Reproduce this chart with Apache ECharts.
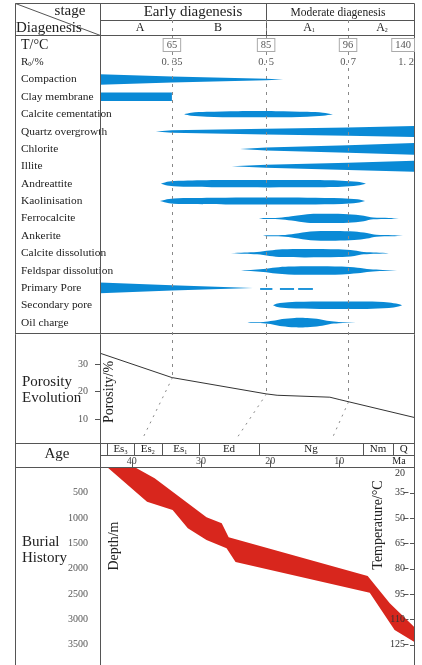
<!DOCTYPE html>
<html><head><meta charset="utf-8">
<script src="https://cdn.jsdelivr.net/npm/echarts@6/dist/echarts.min.js"></script>
<style>html,body{margin:0;padding:0;background:#fff}#c{width:422px;height:665px}</style>
</head><body><div id="c"></div>
<script>
// ---------------- data ----------------
const processNames = ['Compaction','Clay membrane','Calcite cementation','Quartz overgrowth','Chlorite','Illite','Andreattite','Kaolinisation','Ferrocalcite','Ankerite','Calcite dissolution','Feldspar dissolution','Primary Pore','Secondary pore','Oil charge'];
// profiles: [stage position (0-100), relative intensity (0-1)]
const compaction = [[0,0.85],[22.9,0.5],[52.9,0.12],[58.3,0]];
const clayMembrane = [[0.3,0.7],[22.9,0.7]];
const calciteCementation = [[26.8,0],[29,0.25],[34,0.4],[44,0.5],[56,0.5],[66,0.4],[71,0.25],[74.2,0]];
const quartzOvergrowth = [[17.8,0],[22.9,0.2],[52.9,0.47],[79,0.68],[100,0.9]];
const chlorite = [[44.6,0],[52.9,0.25],[79,0.62],[100,0.97]];
const illite = [[42,0],[52.9,0.25],[79,0.6],[100,0.9]];
const andreattite = [[19.4,0],[22,0.35],[28,0.52],[40,0.6],[66,0.6],[77,0.5],[82,0.3],[84.7,0]];
const kaolinisation = [[19.1,0],[22,0.35],[28,0.5],[40,0.56],[66,0.56],[77,0.48],[82,0.3],[84.4,0]];
const ferrocalcite = [[50.6,0],[52,0.08],[57,0.12],[61,0.35],[66,0.7],[72,0.75],[79,0.7],[84,0.45],[87,0.15],[92,0.08],[95.2,0]];
const ankerite = [[51.9,0],[53,0.08],[58,0.12],[62,0.35],[67,0.72],[75,0.8],[81,0.7],[85,0.45],[88,0.15],[93,0.08],[96.5,0]];
const calciteDissolution = [[41.7,0],[46,0.1],[50,0.2],[54,0.45],[58,0.65],[65,0.7],[76,0.65],[81,0.45],[84,0.2],[88,0.1],[92,0]];
const feldsparDissolution = [[43.9,0],[48,0.1],[52,0.25],[56,0.5],[60,0.65],[68,0.7],[77,0.65],[82,0.45],[86,0.2],[90,0.1],[94.6,0]];
const primaryPore = [[0,0.9],[22.9,0.45],[48.7,0]];
const primaryPoreDashes = [[51,54.9],[57.3,61.8],[63.1,67.8]];
const secondaryPore = [[55.1,0],[56.5,0.3],[60,0.5],[70,0.6],[85,0.6],[92,0.45],[95,0.2],[96.2,0]];
const oilCharge = [[45.9,0],[48,0.06],[52,0.1],[55,0.3],[58,0.6],[62,0.78],[66,0.75],[70,0.55],[73,0.25],[76,0.1],[81.5,0]];
const processProfiles = [compaction,clayMembrane,calciteCementation,quartzOvergrowth,chlorite,illite,andreattite,kaolinisation,ferrocalcite,ankerite,calciteDissolution,feldsparDissolution,primaryPore,secondaryPore,oilCharge];

// stage markers
const markerTickPos = [22.9, 52.9, 79.0, 100];
const tempTickLabels = ['65','85','96','140'];
const roTickLabels = ['0. 35','0. 5','0. 7','1. 2'];
const markerPos = [22.9, 52.9, 79.0];
const markerCurveVal = [25.1, 19.2, 16.3];
const markerAge = [38.4, 24.8, 11.0];

// porosity evolution
const porosityPos = [0, 22.9, 52.9, 56.4, 73.2, 76.4, 100];
const porosityVal = [33.9, 25.1, 19.2, 18.7, 18.0, 17.1, 10.7];
const porosityTicks = [10, 20, 30];

// age
const ageUnits = ['Es3','Es2','Es1','Ed','Ng','Nm','Q'];
const ageUnitOlder = [43.6, 39.7, 35.7, 30.3, 21.6, 6.6, 2.2];
const ageUnitYounger = [39.7, 35.7, 30.3, 21.6, 6.6, 2.2, -0.8];
const ageTicks = [40, 30, 20, 10];
const AGE_MIN = -0.8, AGE_MAX = 44.6;

// burial history
const burialUpperAge = [39.5, 36.7, 29.2, 27.0, 26.0, 5.9, 2.7, -0.8];
const burialUpperDepth = [0, 215, 986, 1105, 1381, 2146, 2686, 3148];
const burialLowerAge = [43.5, 37.8, 34.1, 31.9, 29.2, 26.3, 25.0, 5.6, 2.0, -0.8];
const burialLowerDepth = [0, 678, 842, 1204, 1435, 1599, 1870, 2476, 3213, 3445];
const depthTicks = [500, 1000, 1500, 2000, 2500, 3000, 3500];
const tempTicks = [20, 35, 50, 65, 80, 95, 110, 125];

// ---------------- styles ----------------
const BLUE = '#0a8ad6', RED = '#d8261d', LINE = '#555', TXT = '#222', TICK = '#555';
const F = 'Liberation Serif';

const chart = echarts.init(document.getElementById('c'));

function renderProcess(params, api) {
  const i = api.value(1);
  const prof = processProfiles[i];
  const cy = api.coord([0, i])[1];
  const band = api.size([0, 1])[1];
  const half = band * 0.35;
  const top = prof.map(p => [api.coord([p[0], i])[0], cy - p[1] * half]);
  const bot = prof.slice().reverse().map(p => [api.coord([p[0], i])[0], cy + p[1] * half]);
  const pointed = prof[0][1] === 0 && prof[prof.length - 1][1] === 0;
  const children = [{ type: 'polygon', shape: { points: top.concat(bot), smooth: pointed ? 0.3 : 0 }, style: { fill: BLUE } }];
  if (i === 12) {
    primaryPoreDashes.forEach(d => {
      const x1 = api.coord([d[0], i])[0], x2 = api.coord([d[1], i])[0];
      children.push({ type: 'rect', shape: { x: x1, y: cy + 0.2, width: x2 - x1, height: 1.8 }, style: { fill: BLUE } });
    });
  }
  return { type: 'group', children };
}

function renderBurial(params, api) {
  const up = burialUpperAge.map((a, k) => api.coord([a, burialUpperDepth[k]]));
  const lo = burialLowerAge.map((a, k) => api.coord([a, burialLowerDepth[k]])).reverse();
  return { type: 'polygon', shape: { points: up.concat(lo) }, style: { fill: RED } };
}

function renderTemp(params, api) {
  const p = api.coord([api.value(0), api.value(1)]);
  const first = params.dataIndex === 0;
  return { type: 'group', children: [
    { type: 'line', z2: 10, shape: { x1: p[0] - 4, y1: Math.round(p[1]) + 0.5, x2: p[0], y2: Math.round(p[1]) + 0.5 }, style: { stroke: TICK, lineWidth: 1 } },
    { type: 'text', z2: 10, x: p[0] - 9, y: first ? p[1] + 1 : p[1], style: { text: String(api.value(1)), fontSize: 10, fontFamily: F, fill: '#333',
      align: 'right', verticalAlign: first ? 'top' : 'middle' } }
  ] };
}

function renderAge(params, api) {
  const i = api.value(0);
  const x1 = api.coord([ageUnitOlder[i], 0])[0];
  const x2 = api.coord([ageUnitYounger[i], 0])[0];
  const name = ageUnits[i];
  const m = name.match(/^(Es)(\d)$/);
  const text = m ? '{b|Es}{s|' + m[2] + '}' : '{b|' + name + '}';
  return { type: 'group', children: [
    { type: 'line', shape: { x1: Math.round(x1) + 0.5, y1: 443.5, x2: Math.round(x1) + 0.5, y2: 455.5 }, style: { stroke: LINE, lineWidth: 1 } },
    { type: 'text', x: (x1 + x2) / 2, y: 449.5, style: { text, align: 'center', verticalAlign: 'middle', fill: TXT,
      rich: { b: { fontSize: 11, fontFamily: F, fill: TXT }, s: { fontSize: 6, fontFamily: F, fill: TXT, padding: [5, 0, 0, 0] } } } }
  ] };
}

const plain = v => String(v);

const option = {
  animation: false,
  backgroundColor: '#fff',
  grid: [
    { left: 100, right: 8, top: 70.8, height: 260.5 },
    { left: 100, right: 8, top: 45, height: 17 },
    { left: 100, right: 8, top: 333, height: 114 },
    { left: 100, right: 8, top: 467.4, height: 197.6 }
  ],
  xAxis: [
    { gridIndex: 0, type: 'value', min: 0, max: 100, show: false },
    { gridIndex: 1, type: 'value', min: 0, max: 100, position: 'top', z: 20,
      axisLine: { show: false }, axisTick: { show: false }, splitLine: { show: false },
      axisLabel: { customValues: markerTickPos, formatter: v => tempTickLabels[markerTickPos.indexOf(v)], margin: 0,
        verticalAlign: 'middle', fontSize: 10.5, fontFamily: F, color: '#555', backgroundColor: '#fff',
        borderColor: '#aaa', borderWidth: 1, padding: [1, 3, 0, 3], alignMaxLabel: 'right' } },
    { gridIndex: 1, type: 'value', min: 0, max: 100, position: 'bottom', z: 20,
      axisLine: { show: false }, axisTick: { show: false }, splitLine: { show: false },
      axisLabel: { customValues: markerTickPos, formatter: v => roTickLabels[markerTickPos.indexOf(v)], margin: 0,
        verticalAlign: 'middle', fontSize: 10.5, fontFamily: F, color: '#555', alignMaxLabel: 'right' } },
    { gridIndex: 2, type: 'value', min: 0, max: 100, show: false },
    { gridIndex: 3, type: 'value', min: AGE_MIN, max: AGE_MAX, inverse: true, position: 'top',
      axisLine: { show: false }, splitLine: { show: false },
      axisTick: { customValues: ageTicks, length: 7, lineStyle: { color: TICK } },
      axisLabel: { customValues: ageTicks, formatter: plain, margin: 6, verticalAlign: 'middle', fontSize: 10, fontFamily: F, color: '#444' } }
  ],
  yAxis: [
    { gridIndex: 0, type: 'category', data: processNames, inverse: true,
      axisLine: { show: false }, axisTick: { show: false },
      axisLabel: { interval: 0, align: 'left', margin: 79, fontSize: 11.4, fontFamily: F, color: TXT } },
    { gridIndex: 1, type: 'value', min: 0, max: 1, show: false },
    { gridIndex: 2, type: 'value', min: 0, max: 41.2, axisLine: { show: false }, splitLine: { show: false },
      axisTick: { customValues: porosityTicks, length: 5, lineStyle: { color: TICK } },
      axisLabel: { customValues: porosityTicks, formatter: plain, margin: 12, fontSize: 10, fontFamily: F, color: '#555' } },
    { gridIndex: 3, type: 'value', min: 0, max: 3905, inverse: true, axisLine: { show: false }, splitLine: { show: false },
      axisTick: { customValues: depthTicks, length: 5, lineStyle: { color: TICK } },
      axisLabel: { customValues: depthTicks, formatter: plain, margin: 12, fontSize: 10, fontFamily: F, color: '#555' } },
    { gridIndex: 3, type: 'value', position: 'right', min: 20, max: 137.15, inverse: true,
      axisLine: { show: false }, splitLine: { show: false }, axisTick: { show: false }, axisLabel: { show: false } }
  ],
  series: [
    { type: 'custom', xAxisIndex: 0, yAxisIndex: 0, z: 2, renderItem: renderProcess,
      encode: { x: 0, y: 1 }, data: processNames.map((n, i) => [0, i]) },
    { type: 'line', xAxisIndex: 3, yAxisIndex: 2, showSymbol: false, silent: true,
      lineStyle: { color: '#333', width: 1 }, data: porosityPos.map((p, i) => [p, porosityVal[i]]) },
    { type: 'custom', xAxisIndex: 4, yAxisIndex: 3, z: 1, renderItem: renderBurial, data: [[20, 0]] },
    { type: 'custom', xAxisIndex: 4, yAxisIndex: 4, z: 6, renderItem: renderTemp, encode: { x: 0, y: 1 },
      data: tempTicks.map(t => [AGE_MIN, t]) },
    { type: 'custom', xAxisIndex: 4, yAxisIndex: 3, renderItem: renderAge, encode: { x: 0 }, data: ageUnits.map((u, i) => [i]) }
  ]
};
chart.setOption(option);

// ---------- frame and annotations ----------
function ln(x1, y1, x2, y2, extra) {
  return Object.assign({ type: 'line', z: 5, shape: { x1, y1, x2, y2 }, style: { stroke: LINE, lineWidth: 1 } }, extra || {});
}
function tx(text, x, y, size, align, extra) {
  return Object.assign({ type: 'text', z: 30, x, y, style: { text, fontSize: size, fontFamily: F, fill: TXT,
    align: align || 'left', textAlign: align || 'left', verticalAlign: 'middle', textVerticalAlign: 'middle' } }, extra || {});
}
const gr = [
  ln(15.5, 3.5, 414.5, 3.5), ln(15.5, 3.5, 15.5, 665), ln(414.5, 3.5, 414.5, 665), ln(100.5, 3.5, 100.5, 665),
  ln(15.5, 3.5, 100.5, 35.5), ln(100.5, 20.5, 414.5, 20.5), ln(15.5, 35.5, 414.5, 35.5), ln(266.5, 3.5, 266.5, 35.5),
  ln(15.5, 333.5, 414.5, 333.5), ln(15.5, 443.5, 414.5, 443.5), ln(100.5, 455.5, 414.5, 455.5), ln(15.5, 467.5, 414.5, 467.5),
  tx('stage', 70, 11, 15, 'center'),
  tx('Diagenesis', 16, 28, 15),
  tx('Early diagenesis', 193, 12, 15, 'center'),
  tx('Moderate diagenesis', 338, 13, 11.5, 'center'),
  tx('A', 140, 28, 12, 'center'),
  tx('B', 218, 28, 12, 'center'),
  { type: 'text', z: 30, x: 309, y: 28, style: { text: '{a|A}{s|1}', align: 'center', verticalAlign: 'middle', fill: TXT,
    rich: { a: { fontSize: 12, fontFamily: F, fill: TXT }, s: { fontSize: 6, fontFamily: F, fill: TXT, padding: [5, 0, 0, 0] } } } },
  { type: 'text', z: 30, x: 382, y: 28, style: { text: '{a|A}{s|2}', align: 'center', verticalAlign: 'middle', fill: TXT,
    rich: { a: { fontSize: 12, fontFamily: F, fill: TXT }, s: { fontSize: 6, fontFamily: F, fill: TXT, padding: [5, 0, 0, 0] } } } },
  tx('T/°C', 21, 45, 14),
  { type: 'text', z: 30, x: 21, y: 62, style: { text: '{a|R}{s|0}{a|/%}', align: 'left', verticalAlign: 'middle', fill: TXT,
    rich: { a: { fontSize: 11, fontFamily: F, fill: TXT }, s: { fontSize: 6, fontFamily: F, fill: TXT, padding: [5, 0, 0, 0] } } } },
  tx('Porosity', 22, 382, 15),
  tx('Evolution', 22, 398, 15),
  tx('Age', 57, 454, 15, 'center'),
  tx('Burial', 22, 542, 15),
  tx('History', 22, 558, 15),
  tx('Ma', 399, 461, 10, 'center', {}),
  tx('Porosity/%', 109, 392, 14, 'center', { rotation: Math.PI / 2 }),
  tx('Depth/m', 114, 546, 14, 'center', { rotation: Math.PI / 2 }),
  tx('Temperature/°C', 378, 525, 14, 'center', { rotation: Math.PI / 2 })
];
markerPos.forEach((p, i) => {
  const pt = chart.convertToPixel({ gridIndex: 2 }, [p, markerCurveVal[i]]);
  const ax = chart.convertToPixel({ xAxisIndex: 4 }, markerAge[i]);
  const x = Math.round(pt[0]) + 0.5;
  gr.push(ln(x, 20, x, pt[1], { z: 10, style: { stroke: '#888', lineWidth: 1, lineDash: [3, 5] } }));
  gr.push(ln(x, pt[1], ax, 438, { z: 10, style: { stroke: '#888', lineWidth: 1, lineDash: [2, 5] } }));
});
chart.setOption({ graphic: gr });
</script>
</body></html>
